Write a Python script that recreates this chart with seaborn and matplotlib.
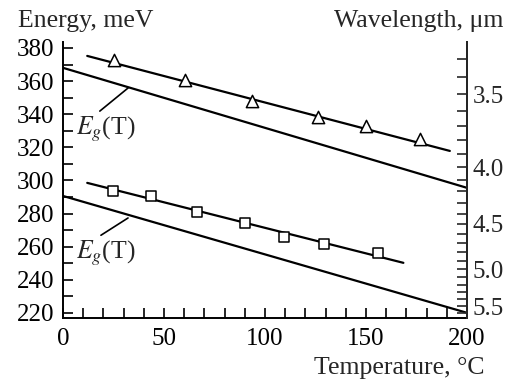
import numpy as np
import pandas as pd
import matplotlib
matplotlib.use("Agg")
import matplotlib.pyplot as plt
import seaborn as sns

# ---- data ----
tri_T = [25.3, 60.5, 93.7, 126.4, 150.2, 176.5]
tri_E = [372.8, 360.7, 348.0, 338.3, 332.9, 325.0]
sq_T = [24.8, 43.6, 66.4, 90.2, 109.6, 129.4, 155.7]
sq_E = [293.6, 290.6, 281.0, 274.3, 265.8, 261.6, 256.2]

fit_tri_T = [12.0, 191.5]
fit_tri_E = [375.2, 317.8]
fit_sq_T = [12.0, 168.5]
fit_sq_E = [298.5, 250.2]

eg_T = [0.0, 200.0]
eg_hi_E = [368.0, 295.5]
eg_lo_E = [290.6, 220.0]

x_ticks = [0, 50, 100, 150, 200]
y_ticks = [220, 240, 260, 280, 300, 320, 340, 360, 380]
lam_major = [3.5, 4.0, 4.5, 5.0, 5.5]
lam_minor = [3.3, 3.4, 3.6, 3.7, 3.8, 3.9, 4.1, 4.2, 4.3, 4.4, 4.6, 4.7, 4.8, 4.9,
             5.1, 5.2, 5.3, 5.4, 5.6]
HC = 1232.0  # meV*um conversion used for the wavelength scale

sns.set_style("ticks")
plt.rcParams["font.family"] = ["Liberation Serif", "DejaVu Serif"]
plt.rcParams["mathtext.fontset"] = "stix"
FS = 18.5
TFS = 18

fig = plt.figure(figsize=(5.10, 3.84), dpi=100)
ax = fig.add_axes([0.1235, 0.172, 0.9157 - 0.1235, 0.8906 - 0.172])

lw = 1.6
for T, E in [(fit_tri_T, fit_tri_E), (fit_sq_T, fit_sq_E), (eg_T, eg_hi_E), (eg_T, eg_lo_E)]:
    sns.lineplot(x=T, y=E, ax=ax, color="black", linewidth=lw, legend=False)

sns.scatterplot(x=tri_T, y=tri_E, ax=ax, marker="^", s=78, facecolor="white",
                edgecolor="black", linewidth=1.1, zorder=5, legend=False)
sns.scatterplot(x=sq_T, y=sq_E, ax=ax, marker="s", s=55, facecolor="white",
                edgecolor="black", linewidth=1.1, zorder=5, legend=False)

ax.set_xlim(0, 200)
ax.set_ylim(216.9, 383.6)
ax.set_xticks(x_ticks)
ax.set_xticks(np.arange(10, 200, 10), minor=True)
ax.set_yticks(y_ticks)
ax.set_yticks(np.arange(230, 380, 20), minor=True)
ax.tick_params(axis="both", which="both", direction="in", length=7, width=1.2,
               labelsize=TFS, colors="black")
ax.tick_params(axis="x", pad=7)
ax.tick_params(axis="y", pad=6)
ax.spines["top"].set_visible(False)
for s in ["left", "bottom", "right"]:
    ax.spines[s].set_linewidth(1.4)
    ax.spines[s].set_color("black")
ax.set_xlabel("")
ax.set_ylabel("")

tw = ax.twinx()
tw.set_ylim(ax.get_ylim())
tw.set_yticks([HC / l for l in lam_major])
tw.set_yticklabels([f"{l:.1f}" for l in lam_major])
tw.set_yticks([HC / l for l in lam_minor], minor=True)
tw.tick_params(axis="y", which="both", direction="in", length=7, width=1.2,
               labelsize=TFS, pad=4)
for s in ["top", "left", "bottom"]:
    tw.spines[s].set_visible(False)
tw.spines["right"].set_linewidth(1.4)

# E_g(T) annotations
ax.annotate(r"$E_g$(T)", xy=(32.2, 355.8), xytext=(6.5, 331.0), fontsize=FS,
            ha="left", va="center",
            arrowprops=dict(arrowstyle="-", color="black", lw=1.2, shrinkA=0, shrinkB=0,
                            relpos=(0.33, 1.0)))
ax.annotate(r"$E_g$(T)", xy=(32.2, 277.3), xytext=(6.5, 256.0), fontsize=FS,
            ha="left", va="center",
            arrowprops=dict(arrowstyle="-", color="black", lw=1.2, shrinkA=0, shrinkB=0,
                            relpos=(0.33, 1.0)))

fig.text(18 / 510, 1 - 27 / 384, "Energy, meV", fontsize=FS, ha="left", va="baseline")
fig.text(503 / 510, 1 - 27 / 384, "Wavelength, μm", fontsize=FS, ha="right", va="baseline")
fig.text(485 / 510, 1 - 374 / 384, "Temperature, °C", fontsize=FS, ha="right", va="baseline")

fig.savefig("out.png", dpi=100)
